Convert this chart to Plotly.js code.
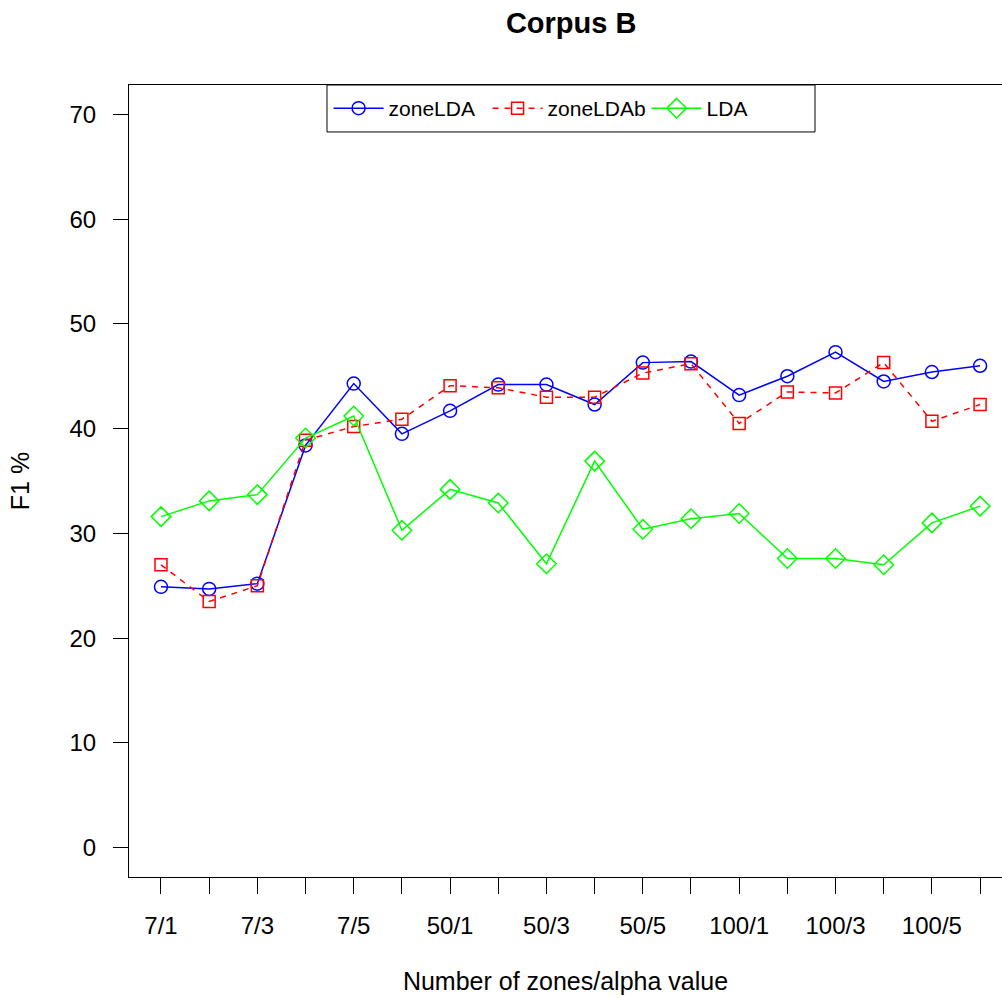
<!DOCTYPE html>
<html>
<head>
<meta charset="utf-8">
<script src="https://cdn.plot.ly/plotly-3.0.1.min.js"></script>
<style>html,body{margin:0;padding:0;overflow:hidden;background:#fff;}</style>
</head>
<body>
<div id="chart" style="width:1002px;height:998px;"></div>
<script>
const categories = ["7/1","7/2","7/3","7/4","7/5","7/6",
                    "50/1","50/2","50/3","50/4","50/5","50/6",
                    "100/1","100/2","100/3","100/4","100/5","100/6"];
const tickLabels = ["7/1","","7/3","","7/5","",
                    "50/1","","50/3","","50/5","",
                    "100/1","","100/3","","100/5",""];
const zoneLDA  = [24.9, 24.7, 25.2, 38.4, 44.3, 39.5,
                  41.7, 44.2, 44.2, 42.3, 46.3, 46.4,
                  43.2, 45.0, 47.3, 44.5, 45.4, 46.0];
const zoneLDAb = [27.0, 23.5, 25.0, 38.9, 40.2, 40.9,
                  44.1, 43.9, 43.0, 43.0, 45.3, 46.2,
                  40.5, 43.5, 43.4, 46.3, 40.7, 42.3];
const LDA      = [31.6, 33.1, 33.7, 39.1, 41.2, 30.3,
                  34.2, 32.9, 27.1, 36.9, 30.4, 31.4,
                  31.9, 27.6, 27.6, 27.0, 31.0, 32.6];
const yTicks = [0, 10, 20, 30, 40, 50, 60, 70];

const FONT = "Liberation Sans, Arial, Helvetica, sans-serif";

const traces = [
  {x: categories, y: zoneLDA, name: "zoneLDA", type: "scatter", mode: "lines+markers",
   line: {color: "#0000FF", width: 1.5},
   marker: {symbol: "circle-open", size: 13, color: "#0000FF", line: {width: 1.5, color: "#0000FF"}}},
  {x: categories, y: zoneLDAb, name: "zoneLDAb", type: "scatter", mode: "lines+markers",
   line: {color: "#FF0000", width: 1.5, dash: "6px,6px"},
   marker: {symbol: "square-open", size: 12, color: "#FF0000", line: {width: 1.5, color: "#FF0000"}}},
  {x: categories, y: LDA, name: "LDA", type: "scatter", mode: "lines+markers",
   line: {color: "#00FF00", width: 1.5},
   marker: {symbol: "diamond-open", size: 15, color: "#00FF00", line: {width: 1.5, color: "#00FF00"}}}
];

const layout = {
  width: 1002, height: 998,
  margin: {l: 129, r: 0, t: 85, b: 121, pad: 0},
  paper_bgcolor: "#fff", plot_bgcolor: "#fff",
  font: {family: FONT, size: 24, color: "#000"},
  title: {text: "<b>Corpus B</b>", font: {family: FONT, size: 29, color: "#000"},
          xref: "container", x: 0.57, xanchor: "center",
          yref: "container", y: 0.977, yanchor: "middle"},
  xaxis: {type: "category", range: [-0.664, 17.455], tickmode: "array",
          tickvals: categories, ticktext: tickLabels,
          ticks: "outside", ticklen: 16, tickwidth: 1, tickcolor: "#000",
          showline: true, mirror: true, linecolor: "#000", linewidth: 1,
          showgrid: false, zeroline: false, ticklabelstandoff: 11,
          tickfont: {family: FONT, size: 24, color: "#000"},
          title: {text: "Number of zones/alpha value", standoff: 34,
                  font: {family: FONT, size: 25, color: "#000"}}},
  yaxis: {range: [-2.8, 72.8], tickmode: "array", tickvals: yTicks,
          ticks: "outside", ticklen: 15, tickwidth: 1, tickcolor: "#000",
          showline: true, mirror: false, linecolor: "#000", linewidth: 1,
          showgrid: false, zeroline: false, ticklabelstandoff: 12,
          tickfont: {family: FONT, size: 24, color: "#000"},
          title: {text: "F1 %", standoff: 32,
                  font: {family: FONT, size: 25, color: "#000"}}},
  showlegend: true,
  legend: {orientation: "h", x: 0.2286, xanchor: "left", y: 0.9703, yanchor: "middle",
           bgcolor: "rgba(0,0,0,0)", borderwidth: 0, itemwidth: 50, entrywidth: 94,
           font: {family: FONT, size: 21, color: "#000"}, itemclick: false},
  shapes: [{type: "rect", xref: "paper", yref: "paper", x0: 0.2268, x1: 0.7858, y0: 0.9407, y1: 1,
            line: {color: "#000", width: 1}, fillcolor: "#fff", layer: "above"}]
};

Plotly.newPlot("chart", traces, layout, {displayModeBar: false, staticPlot: true});
</script>
</body>
</html>
